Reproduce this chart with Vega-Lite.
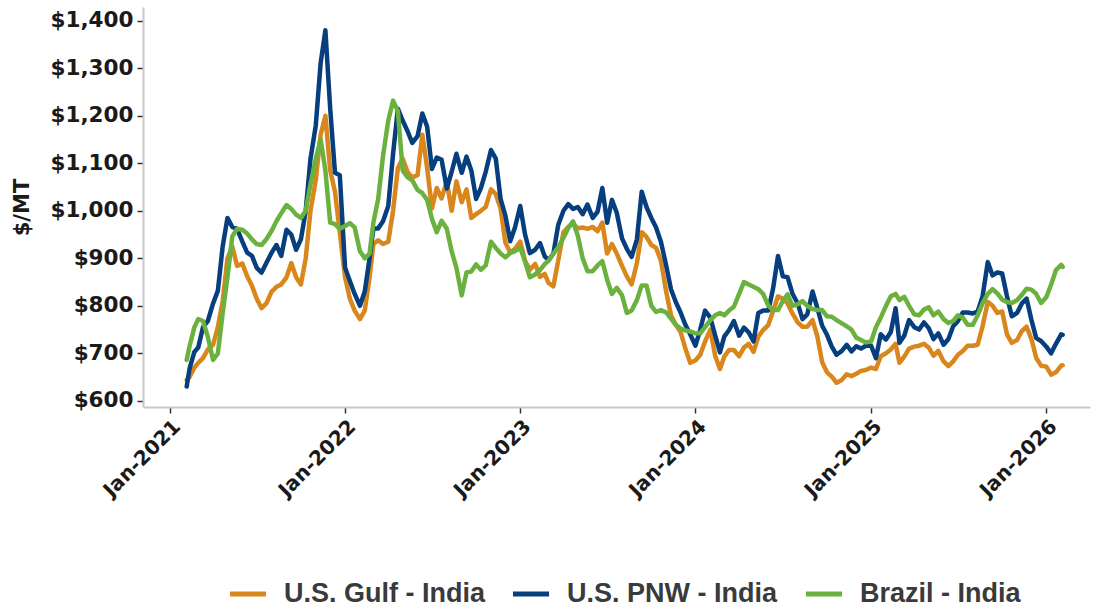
{
  "$schema": "https://vega.github.io/schema/vega-lite/v6.json",
  "width": 947,
  "height": 400,
  "autosize": {"type": "none"},
  "padding": {"left": 143, "top": 7, "right": 6, "bottom": 207},
  "background": "white",
  "config": {"view": {"stroke": null}, "axis": {"grid": false}},
  "data": {"values": [
    {"d":"2021-02-05","Gulf":644,"PNW":630,"Brazil":686},
    {"d":"2021-02-11","Gulf":650,"PNW":668,"Brazil":715},
    {"d":"2021-02-21","Gulf":670,"PNW":703,"Brazil":755},
    {"d":"2021-03-01","Gulf":680,"PNW":712,"Brazil":772},
    {"d":"2021-03-11","Gulf":690,"PNW":755,"Brazil":768},
    {"d":"2021-03-21","Gulf":708,"PNW":768,"Brazil":735},
    {"d":"2021-04-01","Gulf":718,"PNW":805,"Brazil":686},
    {"d":"2021-04-11","Gulf":755,"PNW":832,"Brazil":700},
    {"d":"2021-04-21","Gulf":810,"PNW":925,"Brazil":785},
    {"d":"2021-05-01","Gulf":900,"PNW":985,"Brazil":860},
    {"d":"2021-05-11","Gulf":925,"PNW":966,"Brazil":946},
    {"d":"2021-05-21","Gulf":884,"PNW":962,"Brazil":962},
    {"d":"2021-06-01","Gulf":889,"PNW":935,"Brazil":960},
    {"d":"2021-06-11","Gulf":862,"PNW":912,"Brazil":952},
    {"d":"2021-06-21","Gulf":842,"PNW":905,"Brazil":940},
    {"d":"2021-07-01","Gulf":815,"PNW":880,"Brazil":930},
    {"d":"2021-07-11","Gulf":795,"PNW":870,"Brazil":928},
    {"d":"2021-07-21","Gulf":805,"PNW":890,"Brazil":940},
    {"d":"2021-08-01","Gulf":830,"PNW":912,"Brazil":958},
    {"d":"2021-08-11","Gulf":840,"PNW":928,"Brazil":978},
    {"d":"2021-08-21","Gulf":845,"PNW":905,"Brazil":995},
    {"d":"2021-09-01","Gulf":860,"PNW":960,"Brazil":1012},
    {"d":"2021-09-11","Gulf":890,"PNW":950,"Brazil":1004},
    {"d":"2021-09-21","Gulf":860,"PNW":918,"Brazil":992},
    {"d":"2021-10-01","Gulf":845,"PNW":940,"Brazil":985},
    {"d":"2021-10-11","Gulf":900,"PNW":1000,"Brazil":1000},
    {"d":"2021-10-21","Gulf":1000,"PNW":1110,"Brazil":1056},
    {"d":"2021-11-01","Gulf":1065,"PNW":1180,"Brazil":1110},
    {"d":"2021-11-11","Gulf":1160,"PNW":1310,"Brazil":1150},
    {"d":"2021-11-21","Gulf":1200,"PNW":1380,"Brazil":1085},
    {"d":"2021-12-01","Gulf":1085,"PNW":1215,"Brazil":975},
    {"d":"2021-12-11","Gulf":1040,"PNW":1080,"Brazil":972},
    {"d":"2021-12-21","Gulf":955,"PNW":1075,"Brazil":962},
    {"d":"2022-01-01","Gulf":860,"PNW":880,"Brazil":968},
    {"d":"2022-01-11","Gulf":815,"PNW":852,"Brazil":974},
    {"d":"2022-01-21","Gulf":790,"PNW":825,"Brazil":965},
    {"d":"2022-02-01","Gulf":772,"PNW":800,"Brazil":915},
    {"d":"2022-02-11","Gulf":790,"PNW":830,"Brazil":900},
    {"d":"2022-02-21","Gulf":860,"PNW":900,"Brazil":910},
    {"d":"2022-03-01","Gulf":930,"PNW":963,"Brazil":975},
    {"d":"2022-03-11","Gulf":938,"PNW":963,"Brazil":1025},
    {"d":"2022-03-21","Gulf":930,"PNW":978,"Brazil":1115},
    {"d":"2022-04-01","Gulf":935,"PNW":1010,"Brazil":1190},
    {"d":"2022-04-11","Gulf":1000,"PNW":1120,"Brazil":1232},
    {"d":"2022-04-21","Gulf":1090,"PNW":1215,"Brazil":1210},
    {"d":"2022-05-01","Gulf":1110,"PNW":1190,"Brazil":1085},
    {"d":"2022-05-11","Gulf":1082,"PNW":1168,"Brazil":1071},
    {"d":"2022-05-21","Gulf":1070,"PNW":1143,"Brazil":1064},
    {"d":"2022-06-01","Gulf":1075,"PNW":1157,"Brazil":1044},
    {"d":"2022-06-11","Gulf":1160,"PNW":1205,"Brazil":1037},
    {"d":"2022-06-21","Gulf":1090,"PNW":1177,"Brazil":1023},
    {"d":"2022-07-01","Gulf":1005,"PNW":1088,"Brazil":983},
    {"d":"2022-07-11","Gulf":1048,"PNW":1112,"Brazil":955},
    {"d":"2022-07-21","Gulf":1026,"PNW":1108,"Brazil":979},
    {"d":"2022-08-01","Gulf":1062,"PNW":1047,"Brazil":962},
    {"d":"2022-08-11","Gulf":1000,"PNW":1082,"Brazil":915},
    {"d":"2022-08-21","Gulf":1062,"PNW":1120,"Brazil":880},
    {"d":"2022-09-01","Gulf":1018,"PNW":1080,"Brazil":822},
    {"d":"2022-09-11","Gulf":1045,"PNW":1114,"Brazil":870},
    {"d":"2022-09-21","Gulf":985,"PNW":1085,"Brazil":872},
    {"d":"2022-10-01","Gulf":993,"PNW":1025,"Brazil":887},
    {"d":"2022-10-11","Gulf":1000,"PNW":1048,"Brazil":876},
    {"d":"2022-10-21","Gulf":1008,"PNW":1082,"Brazil":885},
    {"d":"2022-11-01","Gulf":1045,"PNW":1128,"Brazil":935},
    {"d":"2022-11-11","Gulf":1035,"PNW":1110,"Brazil":922},
    {"d":"2022-11-21","Gulf":1005,"PNW":1025,"Brazil":910},
    {"d":"2022-12-01","Gulf":933,"PNW":990,"Brazil":902},
    {"d":"2022-12-11","Gulf":912,"PNW":936,"Brazil":911},
    {"d":"2022-12-21","Gulf":920,"PNW":965,"Brazil":915},
    {"d":"2023-01-01","Gulf":935,"PNW":1010,"Brazil":922},
    {"d":"2023-01-11","Gulf":895,"PNW":950,"Brazil":893},
    {"d":"2023-01-21","Gulf":876,"PNW":911,"Brazil":860},
    {"d":"2023-02-01","Gulf":888,"PNW":918,"Brazil":866},
    {"d":"2023-02-11","Gulf":861,"PNW":932,"Brazil":875},
    {"d":"2023-02-21","Gulf":867,"PNW":904,"Brazil":888},
    {"d":"2023-03-01","Gulf":848,"PNW":896,"Brazil":895},
    {"d":"2023-03-11","Gulf":841,"PNW":910,"Brazil":910},
    {"d":"2023-03-21","Gulf":895,"PNW":970,"Brazil":923},
    {"d":"2023-04-01","Gulf":955,"PNW":1000,"Brazil":943},
    {"d":"2023-04-11","Gulf":966,"PNW":1014,"Brazil":964},
    {"d":"2023-04-21","Gulf":973,"PNW":1004,"Brazil":978},
    {"d":"2023-05-01","Gulf":963,"PNW":1008,"Brazil":947},
    {"d":"2023-05-11","Gulf":965,"PNW":993,"Brazil":900},
    {"d":"2023-05-21","Gulf":962,"PNW":1013,"Brazil":873},
    {"d":"2023-06-01","Gulf":966,"PNW":985,"Brazil":873},
    {"d":"2023-06-11","Gulf":957,"PNW":998,"Brazil":885},
    {"d":"2023-06-21","Gulf":975,"PNW":1048,"Brazil":894},
    {"d":"2023-07-01","Gulf":910,"PNW":975,"Brazil":855},
    {"d":"2023-07-11","Gulf":930,"PNW":1023,"Brazil":825},
    {"d":"2023-07-21","Gulf":910,"PNW":996,"Brazil":838},
    {"d":"2023-08-01","Gulf":884,"PNW":942,"Brazil":822},
    {"d":"2023-08-11","Gulf":862,"PNW":920,"Brazil":785},
    {"d":"2023-08-21","Gulf":845,"PNW":903,"Brazil":790},
    {"d":"2023-09-01","Gulf":890,"PNW":940,"Brazil":812},
    {"d":"2023-09-11","Gulf":955,"PNW":1040,"Brazil":843},
    {"d":"2023-09-21","Gulf":945,"PNW":1008,"Brazil":843},
    {"d":"2023-10-01","Gulf":928,"PNW":985,"Brazil":800},
    {"d":"2023-10-11","Gulf":922,"PNW":965,"Brazil":787},
    {"d":"2023-10-21","Gulf":895,"PNW":935,"Brazil":791},
    {"d":"2023-11-01","Gulf":830,"PNW":885,"Brazil":786},
    {"d":"2023-11-11","Gulf":780,"PNW":835,"Brazil":773},
    {"d":"2023-11-21","Gulf":760,"PNW":808,"Brazil":760},
    {"d":"2023-12-01","Gulf":745,"PNW":786,"Brazil":752},
    {"d":"2023-12-11","Gulf":710,"PNW":760,"Brazil":748},
    {"d":"2023-12-21","Gulf":680,"PNW":740,"Brazil":746},
    {"d":"2024-01-01","Gulf":685,"PNW":716,"Brazil":742},
    {"d":"2024-01-11","Gulf":697,"PNW":750,"Brazil":742},
    {"d":"2024-01-21","Gulf":725,"PNW":790,"Brazil":755},
    {"d":"2024-02-01","Gulf":750,"PNW":775,"Brazil":770},
    {"d":"2024-02-11","Gulf":695,"PNW":738,"Brazil":780},
    {"d":"2024-02-21","Gulf":667,"PNW":702,"Brazil":785},
    {"d":"2024-03-01","Gulf":693,"PNW":735,"Brazil":780},
    {"d":"2024-03-11","Gulf":707,"PNW":749,"Brazil":790},
    {"d":"2024-03-21","Gulf":707,"PNW":768,"Brazil":798},
    {"d":"2024-04-01","Gulf":694,"PNW":737,"Brazil":825},
    {"d":"2024-04-11","Gulf":712,"PNW":754,"Brazil":850},
    {"d":"2024-04-21","Gulf":720,"PNW":744,"Brazil":845},
    {"d":"2024-05-01","Gulf":703,"PNW":725,"Brazil":840},
    {"d":"2024-05-11","Gulf":735,"PNW":785,"Brazil":835},
    {"d":"2024-05-21","Gulf":749,"PNW":790,"Brazil":825},
    {"d":"2024-06-01","Gulf":760,"PNW":790,"Brazil":800},
    {"d":"2024-06-11","Gulf":790,"PNW":838,"Brazil":791},
    {"d":"2024-06-21","Gulf":820,"PNW":905,"Brazil":791},
    {"d":"2024-07-01","Gulf":815,"PNW":862,"Brazil":810},
    {"d":"2024-07-11","Gulf":805,"PNW":860,"Brazil":824},
    {"d":"2024-07-21","Gulf":784,"PNW":826,"Brazil":800},
    {"d":"2024-08-01","Gulf":765,"PNW":805,"Brazil":803},
    {"d":"2024-08-11","Gulf":756,"PNW":772,"Brazil":810},
    {"d":"2024-08-21","Gulf":756,"PNW":782,"Brazil":800},
    {"d":"2024-09-01","Gulf":770,"PNW":830,"Brazil":793},
    {"d":"2024-09-11","Gulf":735,"PNW":795,"Brazil":791},
    {"d":"2024-09-21","Gulf":681,"PNW":758,"Brazil":791},
    {"d":"2024-10-01","Gulf":660,"PNW":739,"Brazil":778},
    {"d":"2024-10-11","Gulf":651,"PNW":714,"Brazil":777},
    {"d":"2024-10-21","Gulf":638,"PNW":697,"Brazil":770},
    {"d":"2024-11-01","Gulf":644,"PNW":705,"Brazil":763},
    {"d":"2024-11-11","Gulf":656,"PNW":718,"Brazil":757},
    {"d":"2024-11-21","Gulf":652,"PNW":704,"Brazil":750},
    {"d":"2024-12-01","Gulf":657,"PNW":715,"Brazil":733},
    {"d":"2024-12-11","Gulf":663,"PNW":710,"Brazil":728},
    {"d":"2024-12-21","Gulf":665,"PNW":716,"Brazil":723},
    {"d":"2025-01-01","Gulf":670,"PNW":716,"Brazil":725},
    {"d":"2025-01-11","Gulf":667,"PNW":690,"Brazil":755},
    {"d":"2025-01-21","Gulf":694,"PNW":740,"Brazil":775},
    {"d":"2025-02-01","Gulf":700,"PNW":729,"Brazil":800},
    {"d":"2025-02-11","Gulf":708,"PNW":745,"Brazil":820},
    {"d":"2025-02-21","Gulf":720,"PNW":795,"Brazil":825},
    {"d":"2025-03-01","Gulf":680,"PNW":722,"Brazil":812},
    {"d":"2025-03-11","Gulf":693,"PNW":737,"Brazil":819},
    {"d":"2025-03-21","Gulf":710,"PNW":770,"Brazil":800},
    {"d":"2025-04-01","Gulf":714,"PNW":755,"Brazil":782},
    {"d":"2025-04-11","Gulf":716,"PNW":750,"Brazil":780},
    {"d":"2025-04-21","Gulf":720,"PNW":765,"Brazil":792},
    {"d":"2025-05-01","Gulf":712,"PNW":753,"Brazil":797},
    {"d":"2025-05-11","Gulf":695,"PNW":730,"Brazil":780},
    {"d":"2025-05-21","Gulf":705,"PNW":742,"Brazil":788},
    {"d":"2025-06-01","Gulf":683,"PNW":718,"Brazil":772},
    {"d":"2025-06-11","Gulf":673,"PNW":730,"Brazil":764},
    {"d":"2025-06-21","Gulf":683,"PNW":757,"Brazil":768},
    {"d":"2025-07-01","Gulf":697,"PNW":768,"Brazil":780},
    {"d":"2025-07-11","Gulf":705,"PNW":786,"Brazil":775},
    {"d":"2025-07-21","Gulf":716,"PNW":786,"Brazil":760},
    {"d":"2025-08-01","Gulf":716,"PNW":784,"Brazil":760},
    {"d":"2025-08-11","Gulf":718,"PNW":788,"Brazil":780},
    {"d":"2025-08-21","Gulf":756,"PNW":819,"Brazil":805},
    {"d":"2025-09-01","Gulf":808,"PNW":892,"Brazil":825},
    {"d":"2025-09-11","Gulf":800,"PNW":864,"Brazil":835},
    {"d":"2025-09-21","Gulf":785,"PNW":870,"Brazil":826},
    {"d":"2025-10-01","Gulf":788,"PNW":868,"Brazil":813},
    {"d":"2025-10-11","Gulf":740,"PNW":820,"Brazil":808},
    {"d":"2025-10-21","Gulf":722,"PNW":778,"Brazil":806},
    {"d":"2025-11-01","Gulf":728,"PNW":785,"Brazil":812},
    {"d":"2025-11-11","Gulf":747,"PNW":805,"Brazil":823},
    {"d":"2025-11-21","Gulf":756,"PNW":815,"Brazil":836},
    {"d":"2025-12-01","Gulf":730,"PNW":770,"Brazil":834},
    {"d":"2025-12-11","Gulf":690,"PNW":732,"Brazil":825},
    {"d":"2025-12-21","Gulf":674,"PNW":726,"Brazil":806},
    {"d":"2026-01-01","Gulf":672,"PNW":714,"Brazil":818},
    {"d":"2026-01-11","Gulf":655,"PNW":700,"Brazil":845},
    {"d":"2026-01-21","Gulf":660,"PNW":720,"Brazil":875},
    {"d":"2026-02-01","Gulf":674,"PNW":740,"Brazil":886},
    {"d":"2026-02-04","Gulf":675,"PNW":739,"Brazil":882}
  ]},
  "transform": [{"fold": ["Gulf", "PNW", "Brazil"], "as": ["series", "value"]}],
  "encoding": {
    "x": {
      "field": "d",
      "type": "temporal",
      "scale": {
        "type": "utc",
        "domain": [
          {"year": 2020, "month": 11, "date": 6, "utc": true},
          {"year": 2026, "month": 4, "date": 2, "utc": true}
        ]
      },
      "axis": {
        "title": null,
        "values": [
          {"year": 2021, "month": 1, "date": 1, "utc": true},
          {"year": 2022, "month": 1, "date": 1, "utc": true},
          {"year": 2023, "month": 1, "date": 1, "utc": true},
          {"year": 2024, "month": 1, "date": 1, "utc": true},
          {"year": 2025, "month": 1, "date": 1, "utc": true},
          {"year": 2026, "month": 1, "date": 1, "utc": true}
        ],
        "format": "%b-%Y",
        "labelAngle": -45,
        "labelFont": "DejaVu Sans",
        "labelFontWeight": "bold",
        "labelFontSize": 20,
        "labelColor": "#1a1a1a",
        "labelPadding": 3,
        "labelFlush": false,
        "labelOverlap": false,
        "domainColor": "#c8c8c8",
        "domainWidth": 2,
        "tickColor": "#333333",
        "tickSize": 6,
        "tickWidth": 1.5
      }
    },
    "y": {
      "field": "value",
      "type": "quantitative",
      "scale": {"domain": [587, 1429], "nice": false, "zero": false},
      "axis": {
        "title": "$/MT",
        "titleFont": "DejaVu Sans",
        "titleFontWeight": "bold",
        "titleFontSize": 21,
        "titleColor": "#1a1a1a",
        "titleAngle": -90,
        "titleX": -121,
        "titleY": 200,
        "titleAlign": "center",
        "titleBaseline": "middle",
        "values": [600, 700, 800, 900, 1000, 1100, 1200, 1300, 1400],
        "format": "$,.0f",
        "labelFont": "DejaVu Sans",
        "labelFontWeight": "bold",
        "labelFontSize": 21.5,
        "labelColor": "#1a1a1a",
        "labelPadding": 4,
        "domainColor": "#c8c8c8",
        "domainWidth": 2,
        "tickColor": "#333333",
        "tickSize": 6,
        "tickWidth": 1.5
      }
    },
    "color": {
      "field": "series",
      "type": "nominal",
      "scale": {"domain": ["Gulf", "PNW", "Brazil"], "range": ["#D9861C", "#063E7E", "#6BB13E"]},
      "legend": {
        "title": null,
        "orient": "none",
        "legendX": 84,
        "legendY": 566,
        "direction": "horizontal",
        "symbolType": "stroke",
        "symbolSize": 1300,
        "symbolStrokeWidth": 5,
        "labelFont": "Liberation Sans",
        "labelFontSize": 27,
        "labelFontWeight": "bold",
        "labelColor": "#3a3a3a",
        "labelOffset": 15,
        "labelLimit": 400,
        "columnPadding": 17,
        "labelExpr": "datum.label == 'Gulf' ? 'U.S. Gulf - India' : datum.label == 'PNW' ? 'U.S. PNW - India' : 'Brazil - India'"
      }
    }
  },
  "layer": [
    {"transform": [{"filter": "datum.series === 'Gulf'"}], "mark": {"type": "line", "strokeWidth": 4.5, "strokeJoin": "round", "strokeCap": "round"}},
    {"transform": [{"filter": "datum.series === 'PNW'"}], "mark": {"type": "line", "strokeWidth": 4.5, "strokeJoin": "round", "strokeCap": "round"}},
    {"transform": [{"filter": "datum.series === 'Brazil'"}], "mark": {"type": "line", "strokeWidth": 4.5, "strokeJoin": "round", "strokeCap": "round"}}
  ]
}
